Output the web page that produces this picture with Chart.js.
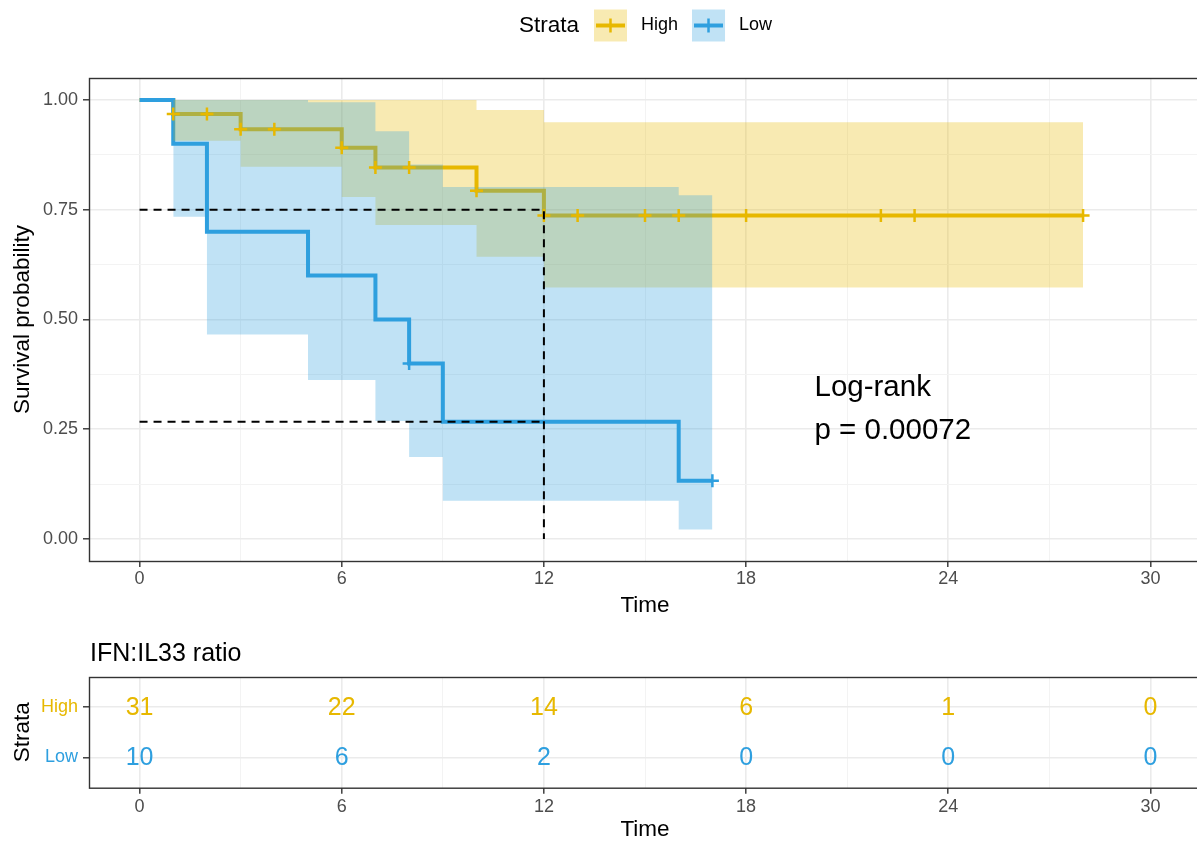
<!DOCTYPE html>
<html>
<head>
<meta charset="utf-8">
<title>Survival by IFN:IL33 ratio</title>
<script src="https://cdn.jsdelivr.net/npm/chart.js@4.4.1/dist/chart.umd.min.js"></script>
<style>
  html, body { margin: 0; padding: 0; background: #fff; overflow: hidden; }
  #wrap { position: relative; width: 1197px; height: 841px; overflow: hidden; }
  canvas { position: absolute; left: 0; }
  #survChart { top: 0; }
  #riskChart { top: 620px; }
</style>
</head>
<body>
<div id="wrap">
  <canvas id="survChart" width="1201" height="620"></canvas>
  <canvas id="riskChart" width="1201" height="221"></canvas>
</div>
<script>
const strata = ['High', 'Low'];
const strataColors = ['#E7B800', '#2E9FDF'];
const strataFills = ['rgba(231, 184, 0, 0.3)', 'rgba(46, 159, 223, 0.3)'];

// Kaplan-Meier steps (value holds from that time onward)
const timeHigh = [0, 1, 3, 6, 7, 10, 12, 28];
const survHigh = [1, 0.968, 0.933, 0.891, 0.846, 0.793, 0.737, 0.737];
const timeLow = [0, 1, 2, 5, 7, 8, 9, 16, 17];
const survLow = [1, 0.9, 0.7, 0.6, 0.5, 0.4, 0.267, 0.133, 0.133];

// 95% confidence bands
const bandTimeHigh = [1, 3, 6, 7, 10, 12, 28];
const upperHigh = [1, 1, 1, 1, 0.977, 0.949, 0.949];
const lowerHigh = [0.907, 0.848, 0.779, 0.715, 0.643, 0.573, 0.573];
const bandTimeLow = [1, 2, 5, 7, 8, 9, 16, 17];
const upperLow = [1, 1, 0.995, 0.929, 0.853, 0.802, 0.783, 0.783];
const lowerLow = [0.734, 0.466, 0.362, 0.269, 0.187, 0.087, 0.022, 0.022];

// censored observations
const censTimeHigh = [1, 2, 3, 4, 6, 7, 8, 10, 12, 13, 15, 16, 18, 22, 23, 28];
const censSurvHigh = [0.968, 0.968, 0.933, 0.933, 0.891, 0.846, 0.846, 0.793,
                      0.737, 0.737, 0.737, 0.737, 0.737, 0.737, 0.737, 0.737];
const censTimeLow = [8, 17];
const censSurvLow = [0.4, 0.133];

// dashed reference lines
const refSurv = [0.75, 0.267];
const refTime = 12;

const xTicks = [0, 6, 12, 18, 24, 30];
const xMinor = [3, 9, 15, 21, 27];
const yTicks = [0, 0.25, 0.5, 0.75, 1];
const yMinor = [0.125, 0.375, 0.625, 0.875];

// number at risk
const riskTimes = [0, 6, 12, 18, 24, 30];
const riskHigh = [31, 22, 14, 6, 1, 0];
const riskLow = [10, 6, 2, 0, 0, 0];

const testName = 'Log-rank';
const pValue = '0.00072';
const tableTitle = 'IFN:IL33 ratio';

const family = "'Liberation Sans', Arial, Helvetica, sans-serif";
const pts = (xs, ys) => xs.map((x, i) => ({ x: x, y: ys[i] }));
const clear = 'rgba(0,0,0,0)';

function gridFor(majors) {
    return {
        color: c => majors.includes(c.tick.value) ? '#EBEBEB' : '#F3F3F3',
        lineWidth: c => majors.includes(c.tick.value) ? 1.6 : 1,
        tickColor: c => majors.includes(c.tick.value) ? '#333333' : clear,
        tickWidth: 1.4,
        tickLength: 6,
        drawTicks: true
    };
}

function xAxis(height, pad, titlePad) {
    return {
        type: 'linear', min: -1.5, max: 31.5,
        afterBuildTicks: s => { s.ticks = xTicks.concat(xMinor).sort((a, b) => a - b).map(v => ({ value: v })); },
        afterFit: s => { s.height = height; },
        ticks: {
            callback: v => xTicks.includes(v) ? String(v) : '',
            color: '#4D4D4D', font: { family, size: 18, lineHeight: 1 },
            padding: pad, maxRotation: 0, autoSkip: false
        },
        grid: gridFor(xTicks),
        border: { display: false },
        title: { display: true, text: 'Time', color: '#000', font: { family, size: 22.5, lineHeight: 1 }, padding: { top: 0, bottom: titlePad } }
    };
}

// panel frame drawn over the data like ggplot's panel.border
const panelBorder = {
    id: 'panelBorder',
    afterDraw(chart) {
        const { ctx, chartArea: a } = chart;
        ctx.save();
        ctx.strokeStyle = '#333333';
        ctx.lineWidth = 1.4;
        ctx.strokeRect(a.left + 0.5, a.top + 0.5, a.right - a.left, a.bottom - a.top);
        ctx.restore();
    }
};

// legend row with filled keys and step/censor glyphs
const strataLegend = {
    id: 'strataLegend',
    afterDraw(chart) {
        const ctx = chart.ctx;
        ctx.save();
        ctx.textBaseline = 'middle';
        ctx.font = `22.5px ${family}`;
        const titleW = ctx.measureText('Strata').width;
        ctx.font = `18px ${family}`;
        const labelW = strata.map(s => ctx.measureText(s).width);
        const key = 33, gap = 14;
        const total = titleW + 15 + strata.reduce((acc, s, i) => acc + key + gap + labelW[i] + (i < strata.length - 1 ? gap : 0), 0);
        let x = 645.5 - total / 2;
        const cy = 25.5;
        ctx.fillStyle = '#000';
        ctx.font = `22.5px ${family}`;
        ctx.fillText('Strata', x, cy);
        x += titleW + 15;
        strata.forEach((s, i) => {
            ctx.fillStyle = strataFills[i];
            ctx.fillRect(x, cy - 16, key, 32);
            ctx.strokeStyle = strataColors[i];
            ctx.lineWidth = 4;
            ctx.beginPath();
            ctx.moveTo(x + 2, cy);
            ctx.lineTo(x + key - 2, cy);
            ctx.stroke();
            ctx.lineWidth = 2.5;
            ctx.beginPath();
            ctx.moveTo(x + key / 2, cy - 7);
            ctx.lineTo(x + key / 2, cy + 7);
            ctx.stroke();
            x += key + gap;
            ctx.fillStyle = '#000';
            ctx.font = `18px ${family}`;
            ctx.fillText(s, x, cy);
            x += labelW[i] + gap;
        });
        ctx.restore();
    }
};

// log-rank annotation
const pvalNote = {
    id: 'pvalNote',
    afterDatasetsDraw(chart) {
        const { ctx, scales } = chart;
        const x = scales.x.getPixelForValue(20) + 1;
        const y = scales.y.getPixelForValue(0.325);
        ctx.save();
        ctx.fillStyle = '#000';
        ctx.font = `29.5px ${family}`;
        ctx.textBaseline = 'alphabetic';
        ctx.fillText(testName, x, y);
        ctx.fillText('p = ' + pValue, x, y + 43);
        ctx.restore();
    }
};

const stepLine = (xs, ys, color, order) => ({
    data: pts(xs, ys), stepped: true, borderColor: color, borderWidth: 4,
    pointRadius: 0, pointHitRadius: 0, fill: false, order: order
});
const bandEdge = (xs, ys, fill, bg, order) => ({
    data: pts(xs, ys), stepped: true, borderColor: clear, borderWidth: 1,
    pointRadius: 0, pointHitRadius: 0, fill: fill, backgroundColor: bg, order: order
});
const censors = (xs, ys, color, order) => ({
    data: pts(xs, ys), showLine: false, pointStyle: 'cross', pointRadius: 6.5,
    pointBorderWidth: 2.5, pointBorderColor: color, pointBackgroundColor: color,
    pointHitRadius: 0, order: order
});
const refLine = (data) => ({
    data: data, borderColor: '#000', borderWidth: 2, borderDash: [8, 6],
    pointRadius: 0, pointHitRadius: 0, fill: false, order: 1
});

new Chart(document.getElementById('survChart').getContext('2d'), {
    type: 'line',
    data: {
        datasets: [
            stepLine(timeHigh, survHigh, strataColors[0], 11),
            stepLine(timeLow, survLow, strataColors[1], 10),
            bandEdge(bandTimeHigh, upperHigh, '+1', strataFills[0], 9),
            bandEdge(bandTimeHigh, lowerHigh, false, clear, 9),
            bandEdge(bandTimeLow, upperLow, '+1', strataFills[1], 8),
            bandEdge(bandTimeLow, lowerLow, false, clear, 8),
            censors(censTimeHigh, censSurvHigh, strataColors[0], 6),
            censors(censTimeLow, censSurvLow, strataColors[1], 5),
            refLine([{ x: 0, y: refSurv[0] }, { x: refTime, y: refSurv[0] }, { x: refTime, y: 0 }]),
            refLine([{ x: 0, y: refSurv[1] }, { x: refTime, y: refSurv[1] }])
        ]
    },
    options: {
        responsive: false,
        animation: false,
        events: [],
        layout: { autoPadding: false, padding: { top: 78, left: 0, right: 0, bottom: 0 } },
        scales: {
            x: xAxis(59, 3, 3),
            y: {
                type: 'linear', min: -0.05, max: 1.05,
                afterBuildTicks: s => { s.ticks = yTicks.concat(yMinor).sort((a, b) => a - b).map(v => ({ value: v })); },
                afterFit: s => { s.width = 89; },
                ticks: {
                    callback: v => yTicks.includes(v) ? v.toFixed(2) : '',
                    color: '#4D4D4D', font: { family, size: 18, lineHeight: 1 }, padding: 5, autoSkip: false
                },
                grid: gridFor(yTicks),
                border: { display: false },
                title: { display: true, text: 'Survival probability', color: '#000', font: { family, size: 22.5, lineHeight: 1 }, padding: { top: 12, bottom: 0 } }
            }
        },
        plugins: { legend: { display: false }, tooltip: { enabled: false } }
    },
    plugins: [panelBorder, strataLegend, pvalNote]
});

// risk table: counts written at each time / stratum position
const riskText = {
    id: 'riskText',
    afterDatasetsDraw(chart) {
        const ctx = chart.ctx;
        ctx.save();
        ctx.font = `25px ${family}`;
        ctx.textAlign = 'center';
        ctx.textBaseline = 'middle';
        chart.data.datasets.forEach((ds, di) => {
            chart.getDatasetMeta(di).data.forEach((el, i) => {
                ctx.fillStyle = ds.textColor;
                ctx.fillText(String(ds.counts[i]), el.x, el.y + 1);
            });
        });
        ctx.font = `25px ${family}`;
        ctx.textAlign = 'left';
        ctx.textBaseline = 'alphabetic';
        ctx.fillStyle = '#000';
        ctx.fillText(tableTitle, chart.chartArea.left + 1, 40.5);
        ctx.restore();
    }
};

const rowOf = s => strata.length - strata.indexOf(s);

new Chart(document.getElementById('riskChart').getContext('2d'), {
    type: 'line',
    data: {
        datasets: [
            { data: riskTimes.map(t => ({ x: t, y: rowOf('High') })), counts: riskHigh, textColor: strataColors[0], showLine: false, pointRadius: 0, pointHitRadius: 0 },
            { data: riskTimes.map(t => ({ x: t, y: rowOf('Low') })), counts: riskLow, textColor: strataColors[1], showLine: false, pointRadius: 0, pointHitRadius: 0 }
        ]
    },
    options: {
        responsive: false,
        animation: false,
        events: [],
        layout: { autoPadding: false, padding: { top: 57, left: 0, right: 0, bottom: 0 } },
        scales: {
            x: xAxis(53.3, 4, 0),
            y: {
                type: 'linear', min: 0.4, max: 2.6,
                afterBuildTicks: s => { s.ticks = strata.map(rowOf).sort().map(v => ({ value: v })); },
                afterFit: s => { s.width = 89; },
                ticks: {
                    callback: v => strata[strata.length - v],
                    color: c => strataColors[strata.length - c.tick.value],
                    font: { family, size: 18, lineHeight: 1 }, padding: 5, autoSkip: false
                },
                grid: {
                    color: '#EBEBEB', lineWidth: 1.6, tickColor: '#333333',
                    tickWidth: 1.4, tickLength: 6, drawTicks: true
                },
                border: { display: false },
                title: { display: true, text: 'Strata', color: '#000', font: { family, size: 22.5, lineHeight: 1 }, padding: { top: 12, bottom: 0 } }
            }
        },
        plugins: { legend: { display: false }, tooltip: { enabled: false } }
    },
    plugins: [panelBorder, riskText]
});
</script>
</body>
</html>
